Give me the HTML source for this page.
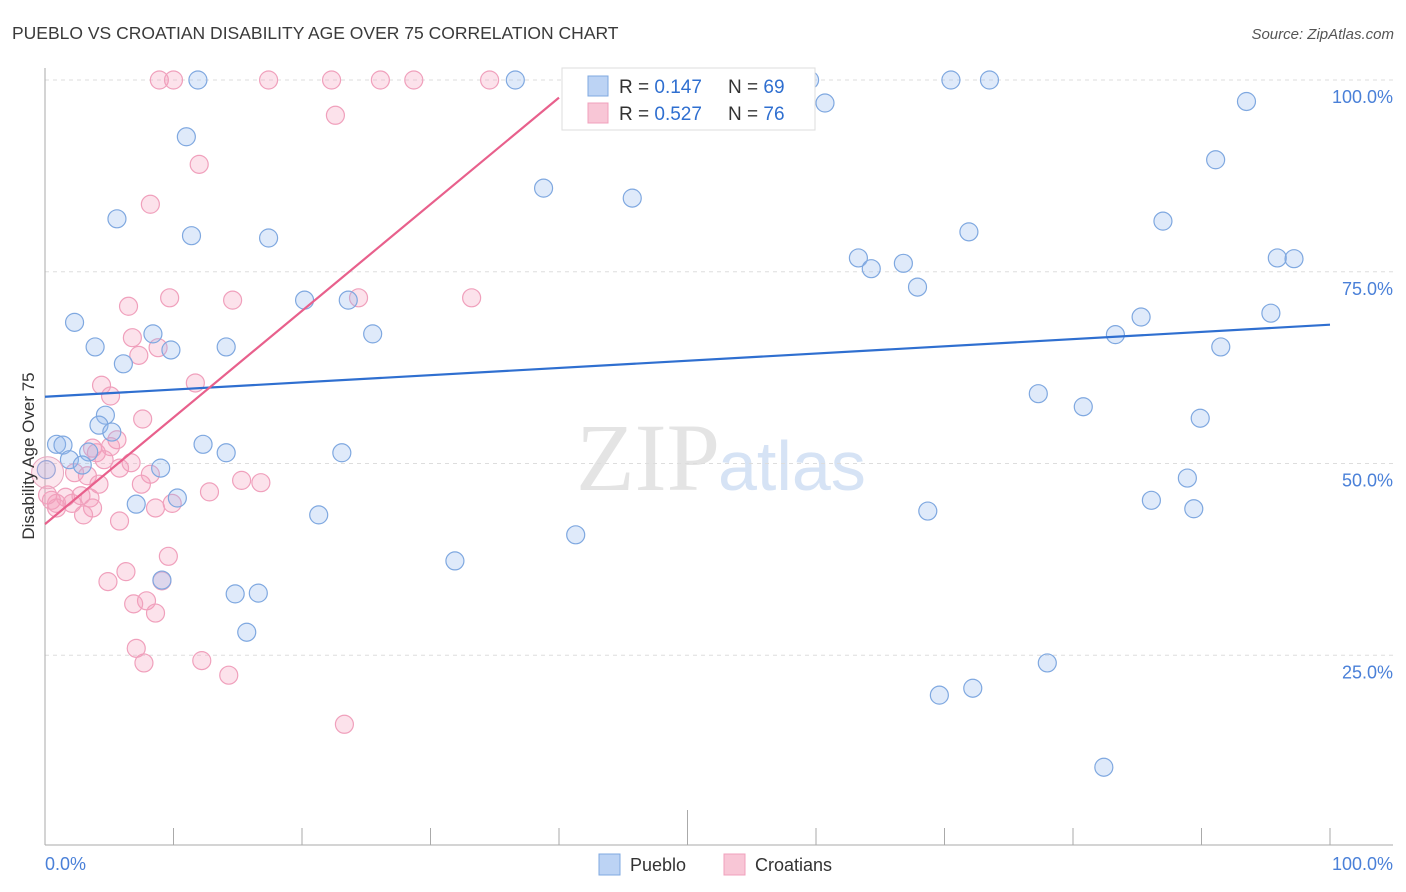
<!DOCTYPE html>
<html><head><meta charset="utf-8"><style>
body{margin:0;background:#fff;font-family:"Liberation Sans",sans-serif;}
svg{display:block}
</style></head><body>
<svg width="1406" height="892" id="chart">
<text x="12" y="39" font-size="17.5" fill="#3a3a3a">PUEBLO VS CROATIAN DISABILITY AGE OVER 75 CORRELATION CHART</text>
<text x="1394" y="39" font-size="15" fill="#555" font-style="italic" text-anchor="end">Source: ZipAtlas.com</text>
<text x="720" y="490" font-size="96" fill="#e4e4e4" font-family="Liberation Serif" text-anchor="end">ZIP</text>
<text x="718" y="490" font-size="70" fill="#d6e3f5">atlas</text>
<g id="grid"></g>
<g id="axes"></g>
<g id="pts"></g>
<g id="lines"></g>
<text transform="translate(34,456) rotate(-90)" font-size="17" fill="#333" text-anchor="middle">Disability Age Over 75</text>
<text x="45" y="870" font-size="18" fill="#4a80d8">0.0%</text>
<text x="1393" y="870" font-size="18" fill="#4a80d8" text-anchor="end">100.0%</text>
<g>
<rect x="562" y="68" width="253" height="62" fill="#fff" stroke="#ddd"/>
<rect x="588" y="76" width="20" height="20" fill="#bcd3f4" stroke="#7fa8e0"/>
<rect x="588" y="103" width="20" height="20" fill="#f8c6d6" stroke="#f0a0bc"/>
<text x="619" y="93" font-size="19" fill="#333">R = <tspan fill="#2f6fd0">0.147</tspan><tspan x="728">N = </tspan><tspan fill="#2f6fd0">69</tspan></text>
<text x="619" y="120" font-size="19" fill="#333">R = <tspan fill="#2f6fd0">0.527</tspan><tspan x="728">N = </tspan><tspan fill="#2f6fd0">76</tspan></text>
</g>
<g>
<rect x="599" y="854" width="21" height="21" fill="#bcd3f4" stroke="#7fa8e0"/>
<text x="630" y="871" font-size="18" fill="#333">Pueblo</text>
<rect x="724" y="854" width="21" height="21" fill="#f8c6d6" stroke="#f0a0bc"/>
<text x="755" y="871" font-size="18" fill="#333">Croatians</text>
</g>
</svg>
<script>
const yTicks=[25,50,75,100];
const yTickLabels=["25.0%","50.0%","75.0%","100.0%"];
const xTicks=[0,10,20,30,40,50,60,70,80,90,100];
const puebloX=[11.9,36.6,59.5,70.5,73.5,60.7,93.5,11.0,91.1,38.8,45.7,5.6,11.4,17.4,87.0,71.9,63.3,64.3,66.8,95.9,97.2,67.9,20.2,23.6,2.3,95.4,85.3,8.4,25.5,83.3,3.9,9.8,14.1,91.5,6.1,77.3,80.8,4.7,89.9,4.2,5.2,0.9,1.4,12.3,14.1,23.1,3.4,1.9,2.9,9.0,0.1,88.9,10.3,7.1,86.1,89.4,68.7,21.3,41.3,31.9,9.1,14.8,16.6,15.7,78.0,69.6,72.2,82.4];
const puebloY=[100,100,100,100,100,97.0,97.2,92.6,89.6,85.9,84.6,81.9,79.7,79.4,81.6,80.2,76.8,75.4,76.1,76.8,76.7,73.0,71.3,71.3,68.4,69.6,69.1,66.9,66.9,66.8,65.2,64.8,65.2,65.2,63.0,59.1,57.4,56.3,55.9,55.0,54.1,52.5,52.4,52.5,51.4,51.4,51.5,50.5,49.8,49.4,49.2,48.1,45.5,44.7,45.2,44.1,43.8,43.3,40.7,37.3,34.8,33.0,33.1,28.0,24.0,19.8,20.7,10.4];
const croatX=[8.9,10.0,17.4,22.3,26.1,28.7,34.6,22.6,12.0,8.2,9.7,6.5,14.6,24.4,33.2,6.8,8.8,7.3,11.7,4.4,5.1,7.6,5.6,3.7,5.1,4.0,4.6,6.7,5.8,8.2,2.3,3.3,7.5,15.3,16.8,4.2,12.8,1.6,2.8,0.5,0.9,2.1,3.5,8.6,9.9,3.7,3.0,0.9,0.2,5.8,9.6,6.3,4.9,9.1,7.9,6.9,8.6,7.1,7.7,12.2,14.3,23.3];
const croatY=[100,100,100,100,100,100,100,95.4,89.0,83.8,71.6,70.5,71.3,71.6,71.6,66.4,65.1,64.1,60.5,60.2,58.8,55.8,53.1,52.0,52.2,51.4,50.5,50.1,49.4,48.6,48.8,48.4,47.3,47.8,47.5,47.3,46.3,45.6,45.8,45.2,44.8,44.8,45.5,44.2,44.8,44.2,43.3,44.2,45.9,42.5,37.9,35.9,34.6,34.7,32.1,31.7,30.5,25.9,24.0,24.3,22.4,16.0];
const puebloTrend=[58.7,68.1];
const croatTrend=[42.1,97.7];
const croatTrendEndX=40;
const NS="http://www.w3.org/2000/svg";
const sx=v=>45+v*12.85, sy=v=>847-v*7.67;
function mk(tag,parent,attrs){const e=document.createElementNS(NS,tag);for(const k in attrs)e.setAttribute(k,attrs[k]);parent.appendChild(e);return e;}
const grid=document.getElementById('grid'),axes=document.getElementById('axes'),pts=document.getElementById('pts'),lines=document.getElementById('lines');
yTicks.forEach((t,i)=>{
 const l=mk('line',grid,{x1:45,x2:1393,y1:sy(t),y2:sy(t),stroke:'#ddd','stroke-dasharray':'4,4'});
 
 
 const tx=mk('text',grid,{x:1393,y:sy(t)+23,'font-size':18,fill:'#4a80d8','text-anchor':'end'});
 tx.textContent=yTickLabels[i];
 
 
});
const ax=mk('line',axes,{x1:45,x2:1393,y1:845,y2:845,stroke:'#aaa'});


const ay=mk('line',axes,{x1:45,x2:45,y1:68,y2:845,stroke:'#aaa'});


xTicks.forEach(t=>{
 const l=mk('line',axes,{x1:sx(t),x2:sx(t),y1:t==50?810:828,y2:845,stroke:'#aaa'});
 
 
});
function drawPts(X,Y,fill,stroke,name){X.forEach((x,i)=>{
 const c=mk('circle',pts,{cx:sx(x),cy:sy(Y[i]),r:9,fill:fill,stroke:stroke,'stroke-width':1.2});
 
 
});}
drawPts(croatX,croatY,'rgba(244,160,188,0.3)','#f0a0bc','croatians-point');
drawPts(puebloX,puebloY,'rgba(150,185,240,0.3)','#7fa8e0','pueblo-point');
const big=mk('circle',pts,{cx:sx(0.2),cy:sy(48.8),r:16,fill:'rgba(244,160,188,0.25)',stroke:'#e8a8c0'});


const bl=mk('line',lines,{x1:sx(0),y1:sy(puebloTrend[0]),x2:sx(100),y2:sy(puebloTrend[1]),stroke:'#2f6fd0','stroke-width':2.2});


const pl=mk('line',lines,{x1:sx(0),y1:sy(croatTrend[0]),x2:sx(croatTrendEndX),y2:sy(croatTrend[1]),stroke:'#e8608c','stroke-width':2.2});


</script>
</body></html>
